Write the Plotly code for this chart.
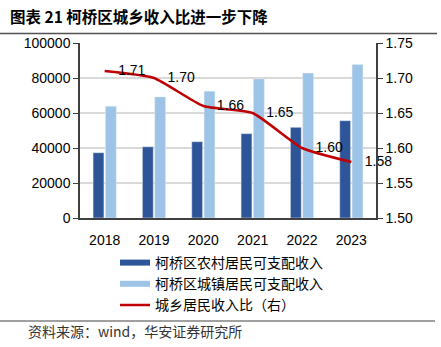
import plotly.graph_objects as go

years = ["2018", "2019", "2020", "2021", "2022", "2023"]
rural_income = [37300, 40700, 43600, 48200, 51800, 55600]
urban_income = [63900, 69200, 72500, 79500, 82800, 87700]
ratio = [1.71, 1.70, 1.66, 1.65, 1.60, 1.58]
ratio_labels = ["1.71", "1.70", "1.66", "1.65", "1.60", "1.58"]

name_rural = "柯桥区农村居民可支配收入"
name_urban = "柯桥区城镇居民可支配收入"
name_ratio = "城乡居民收入比（右）"

C_RURAL = "#2E5597"
C_URBAN = "#9DC3E6"
C_RED = "#C00000"
AXIS = "#404040"
GRID = "#D9D9D9"

W, H = 441, 347
L, R, T, B = 80, 441 - 376, 43, 347 - 218
PW, PH = W - L - R, H - T - B

FONT = "Liberation Sans, Arial, sans-serif"
CJK = "Noto Sans CJK SC, sans-serif"

fig = go.Figure()
fig.add_trace(go.Bar(x=years, y=rural_income, name=name_rural, marker_color=C_RURAL,
                     showlegend=False, yaxis="y"))
fig.add_trace(go.Bar(x=years, y=urban_income, name=name_urban, marker_color=C_URBAN,
                     showlegend=False, yaxis="y"))
fig.add_trace(go.Scatter(x=years, y=ratio, name=name_ratio, mode="lines+markers+text",
                         text=ratio_labels, textposition="middle right",
                         textfont=dict(family=FONT, size=14, color="#000000"),
                         marker=dict(size=20, opacity=0, color=C_RED),
                         line=dict(color=C_RED, width=2.5, shape="spline", smoothing=0.5),
                         showlegend=False, yaxis="y2", cliponaxis=False))

# legend proxies (wide flat swatches as in the reference)
for nm, col, wd in [(name_rural, C_RURAL, 6), (name_urban, C_URBAN, 6), (name_ratio, C_RED, 2.5)]:
    fig.add_trace(go.Scatter(x=[years[0]], y=[None], mode="lines", name=nm,
                             line=dict(color=col, width=wd), yaxis="y",
                             hoverinfo="skip"))

def px_x(p):
    return (p - L) / PW

def px_y(p):
    return (H - B - p) / PH

shapes = [
    dict(type="line", xref="paper", yref="paper", x0=px_x(0), x1=px_x(437),
         y0=px_y(33.5), y1=px_y(33.5), line=dict(color="#505050", width=1.3)),
    dict(type="line", xref="paper", yref="paper", x0=px_x(0), x1=px_x(435),
         y0=px_y(321), y1=px_y(321), line=dict(color="#808080", width=1.3)),
]

fig.add_annotation(xref="paper", yref="paper", x=px_x(8), y=px_y(16), xanchor="left",
                   yanchor="middle", showarrow=False,
                   text="<b>图表 21 柯桥区城乡收入比进一步下降</b>",
                   font=dict(family=CJK, size=15.5, color="#000000"))
fig.add_annotation(xref="paper", yref="paper", x=px_x(26), y=px_y(331), xanchor="left",
                   yanchor="middle", showarrow=False,
                   text="资料来源：wind，华安证券研究所",
                   font=dict(family=CJK, size=14, color="#333333"))

fig.update_layout(
    width=W, height=H,
    margin=dict(l=L, r=R, t=T, b=B, pad=0, autoexpand=False),
    paper_bgcolor="white", plot_bgcolor="white",
    barmode="group", bargap=0.5, bargroupgap=0.12,
    font=dict(family=FONT, size=14, color="#000000"),
    shapes=shapes,
    legend=dict(orientation="v", x=px_x(115), y=px_y(247), xanchor="left", yanchor="top",
                font=dict(family=CJK, size=14, color="#000000"),
                itemwidth=30, tracegroupgap=0, bgcolor="rgba(0,0,0,0)"),
    xaxis=dict(type="category", range=[-0.5, 5.5], showline=True, linecolor=AXIS,
               linewidth=1.5, ticks="", showgrid=False, ticklabelstandoff=8,
               tickangle=0, tickfont=dict(family=FONT, size=14)),
    yaxis=dict(range=[0, 100000], dtick=20000, showline=True, linecolor=AXIS,
               linewidth=1.5, ticks="outside", ticklen=5, tickcolor=AXIS,
               showgrid=True, gridcolor=GRID, gridwidth=1.5, zeroline=False,
               tickformat="d", tickfont=dict(family=FONT, size=14)),
    yaxis2=dict(range=[1.5, 1.75], dtick=0.05, overlaying="y", side="right",
                showline=True, linecolor=AXIS, linewidth=1.5, ticks="outside",
                ticklen=5, tickcolor=AXIS, showgrid=False, zeroline=False,
                tickformat=".2f", tickfont=dict(family=FONT, size=14)),
)

fig.write_html("out.html")
